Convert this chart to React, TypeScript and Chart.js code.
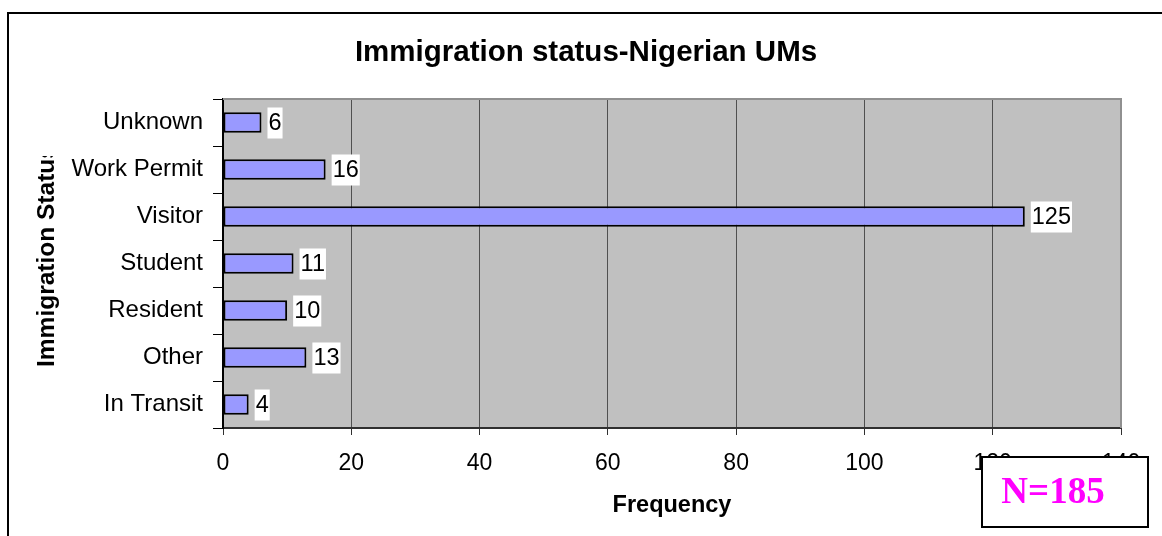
import React, { useEffect, useRef } from "react";
import { Chart, registerables } from "chart.js";

Chart.register(...registerables);

const categories = ["Unknown", "Work Permit", "Visitor", "Student", "Resident", "Other", "In Transit"];
const frequencies = [6, 16, 125, 11, 10, 13, 4];
const xMin = 0;
const xMax = 140;
const xStep = 20;
const chartTitle = "Immigration status-Nigerian UMs";
const yTitle = "Immigration Status";
const xTitle = "Frequency";
const noteText = "N=185";

const SANS = '"Liberation Sans", Arial, sans-serif';
const SERIF = '"Liberation Serif", "Times New Roman", serif';

const decorPlugin = {
  id: "decor",
  beforeDraw(chart: any) {
    const { ctx, chartArea: a } = chart;
    ctx.save();
    ctx.fillStyle = "#ffffff";
    ctx.fillRect(0, 0, chart.width, chart.height);
    ctx.fillStyle = "#C0C0C0";
    ctx.fillRect(a.left, a.top, a.right - a.left, a.bottom - a.top);
    ctx.restore();
  },
  afterDatasetsDraw(chart: any) {
    const { ctx } = chart;
    const meta = chart.getDatasetMeta(0);
    const data = chart.data.datasets[0].data;
    ctx.save();
    ctx.font = "23.5px " + SANS;
    ctx.textBaseline = "middle";
    ctx.textAlign = "left";
    meta.data.forEach((bar: any, i: number) => {
      const txt = String(data[i]);
      const w = ctx.measureText(txt).width;
      const x = bar.x + 6;
      ctx.fillStyle = "#ffffff";
      ctx.fillRect(x, bar.y - 15, w + 2, 31);
      ctx.fillStyle = "#000000";
      ctx.fillText(txt, x + 1, bar.y + 1);
    });
    ctx.restore();
  },
  afterDraw(chart: any) {
    const { ctx, chartArea: a } = chart;
    ctx.save();
    // plot area top/right border
    ctx.strokeStyle = "#909090";
    ctx.lineWidth = 2;
    ctx.beginPath();
    ctx.moveTo(a.left, a.top);
    ctx.lineTo(a.right, a.top);
    ctx.lineTo(a.right, a.bottom);
    ctx.stroke();

    // outer frame
    ctx.strokeStyle = "#000000";
    ctx.lineWidth = 2;
    ctx.strokeRect(8, 13, chart.width + 20, chart.height + 20);

    // title
    ctx.fillStyle = "#000000";
    ctx.font = "bold 29.5px " + SANS;
    ctx.textAlign = "center";
    ctx.textBaseline = "alphabetic";
    ctx.fillText(chartTitle, (a.left + a.right) / 2 - 86, 61);

    // x title
    ctx.font = "bold 23.5px " + SANS;
    ctx.fillText(xTitle, (a.left + a.right) / 2, 512);

    // y title (clipped at top like the original)
    ctx.save();
    ctx.beginPath();
    ctx.rect(0, 156, 120, 400);
    ctx.clip();
    ctx.translate(54, 367);
    ctx.rotate(-Math.PI / 2);
    ctx.textAlign = "left";
    ctx.font = "bold 24.5px " + SANS;
    ctx.fillText(yTitle, 0, 0);
    ctx.restore();

    // N box
    ctx.fillStyle = "#ffffff";
    ctx.fillRect(982, 457, 166, 70);
    ctx.strokeStyle = "#000000";
    ctx.lineWidth = 2;
    ctx.strokeRect(982, 457, 166, 70);
    ctx.fillStyle = "#FF00FF";
    ctx.font = "bold 37px " + SERIF;
    ctx.textAlign = "center";
    ctx.fillText(noteText, 1053, 503);
    ctx.restore();
  },
};

export default function App() {
  const ref = useRef<HTMLCanvasElement | null>(null);
  useEffect(() => {
    if (!ref.current) return;
    const chart = new Chart(ref.current, {
      type: "bar",
      data: {
        labels: categories,
        datasets: [
          {
            data: frequencies,
            backgroundColor: "#9999FF",
            borderColor: "#000000",
            borderWidth: 2,
            borderSkipped: false,
            categoryPercentage: 1,
            barPercentage: 0.44,
          },
        ],
      },
      options: {
        indexAxis: "y",
        responsive: false,
        animation: false,
        devicePixelRatio: 1,
        layout: { padding: { left: 0, top: 99, right: 41, bottom: 0 } },
        plugins: {
          legend: { display: false },
          tooltip: { enabled: false },
          title: { display: false },
        },
        scales: {
          x: {
            type: "linear",
            min: xMin,
            max: xMax,
            ticks: {
              stepSize: xStep,
              color: "#000000",
              font: { family: SANS, size: 23 },
              padding: 15,
              maxRotation: 0,
            },
            grid: {
              color: "#505050",
              lineWidth: 1,
              tickColor: "#303030",
              tickLength: 7,
              drawOnChartArea: true,
            },
            border: { display: true, color: "#303030", width: 2 },
            afterFit: (scale: any) => {
              scale.height = 108;
            },
          },
          y: {
            type: "category",
            offset: true,
            ticks: {
              color: "#000000",
              font: { family: SANS, size: 24 },
              padding: 10,
            },
            grid: {
              offset: true,
              drawOnChartArea: false,
              tickLength: 10,
              tickColor: "#000000",
            },
            border: { display: true, color: "#000000", width: 2 },
            afterFit: (scale: any) => {
              scale.width = 223;
            },
          },
        },
      },
      plugins: [decorPlugin],
    });
    return () => chart.destroy();
  }, []);

  return (
    <div style={{ position: "fixed", left: 0, top: 0, width: 1162, height: 536, background: "#fff" }}>
      <canvas ref={ref} width={1162} height={536} style={{ display: "block" }} />
    </div>
  );
}
